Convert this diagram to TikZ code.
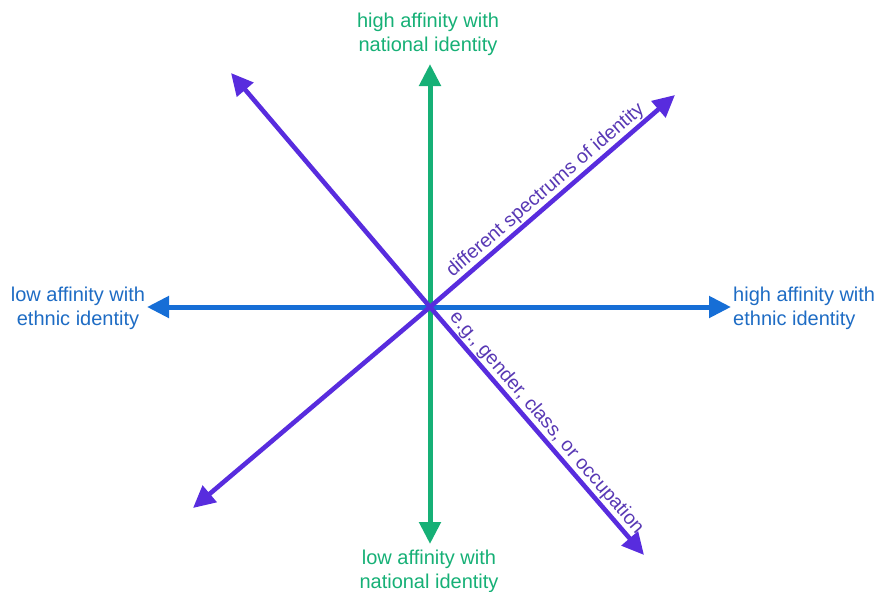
\documentclass[tikz,border=0pt]{standalone}
\usepackage{fontspec}
\setmainfont{Liberation Sans}
\usetikzlibrary{arrows.meta}
\definecolor{ngreen}{RGB}{22,176,118}
\definecolor{nblue}{RGB}{22,110,214}
\definecolor{tblue}{RGB}{30,108,196}
\definecolor{npurple}{RGB}{88,44,222}
\definecolor{tpurple}{RGB}{88,56,180}
\tikzset{
  axis/.style={line width=5pt, -{Triangle[length=22pt,width=21pt]}},
  lbl/.style={font=\fontsize{20}{24}\selectfont, align=center, inner sep=0pt},
  slbl/.style={font=\fontsize{19.5}{23}\selectfont, color=tpurple, sloped, inner sep=0.5pt}
}
\begin{document}
\begin{tikzpicture}[x=1pt,y=-1pt]
\useasboundingbox (0,0) rectangle (876,592);
\coordinate (c) at (430,307);
\coordinate (gT) at (430,64);
\coordinate (gB) at (430,544);
\coordinate (bL) at (147,307);
\coordinate (bR) at (731,307);
\coordinate (p1a) at (231,73);
\coordinate (p1b) at (644,555);
\coordinate (p2a) at (193,508);
\coordinate (p2b) at (675,95);
% green vertical
\draw[axis, ngreen] (c) -- (gT);
\draw[axis, ngreen] (c) -- (gB);
% blue horizontal
\draw[axis, nblue] (c) -- (bL);
\draw[axis, nblue] (c) -- (bR);
% purple diagonals
\draw[axis, npurple, line width=4.6pt] (c) -- (p1a);
\draw[axis, npurple, line width=4.6pt] (c) -- (p2a);
\draw[axis, npurple, line width=4.6pt] (c) -- (p2b)
  node[slbl, pos=0.505, above=0.5pt] (spec) {different spectrums of identity};
\draw[axis, npurple, line width=4.6pt] (c) -- (p1b)
  node[slbl, pos=0.50, above=0.5pt] (eg) {e.g., gender, class, or occupation};
% labels
\node[lbl, text=ngreen] (top) at (428,34) {high affinity with\\national identity};
\node[lbl, text=ngreen] (bot) at (429,571) {low affinity with\\national identity};
\node[lbl, text=tblue] (left) at (78,308) {low affinity with\\ethnic identity};
\node[lbl, text=tblue, align=left, anchor=west] (right) at (733,308) {high affinity with\\ethnic identity};
\end{tikzpicture}
\end{document}
